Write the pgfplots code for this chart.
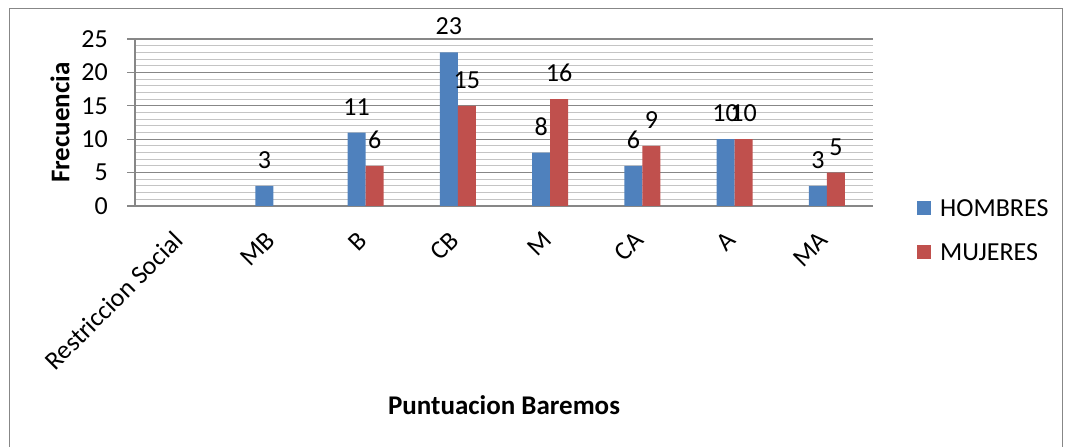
\documentclass[border=0pt]{standalone}
\usepackage{fontspec}
\setmainfont{Carlito}
\usepackage{pgfplots}
\pgfplotsset{compat=1.18}
\definecolor{cblue}{HTML}{4F81BD}
\definecolor{cred}{HTML}{C0504D}
\definecolor{majgrid}{HTML}{878787}
\definecolor{mingrid}{HTML}{C4C4C4}
\newcommand{\fs}{\fontsize{26}{31}\selectfont}
\newcommand{\ft}{\fontsize{27}{32}\selectfont\bfseries}
\begin{document}
\begin{tikzpicture}[x=1pt,y=1pt]
\useasboundingbox (0,0) rectangle (1066,447);
\draw[majgrid, line width=1pt] (9,-20) -- (9,438) -- (1062,438) -- (1062,-20);
\begin{axis}[
  at={(135pt,241pt)}, anchor=south west,
  scale only axis, width=738pt, height=167pt,
  clip=false,
  ybar=0pt, bar width=18pt,
  ymin=0, ymax=25, xmin=-0.5, xmax=7.5,
  axis lines*=left,
  axis line style={majgrid, line width=1.3pt},
  xtick={0,...,7},
  xticklabels={Restriccion Social,MB,B,CB,M,CA,A,MA},
  xtick style={draw=none},
  ytick={0,5,...,25},
  minor y tick num=4,
  ymajorgrids, yminorgrids,
  major grid style={majgrid, line width=1.2pt},
  minor grid style={mingrid, line width=1pt},
  tick align=outside,
  major tick length=8pt, minor tick length=0pt,
  ytick style={majgrid, line width=1.2pt},
  /pgf/number format/assume math mode=true,
  yticklabel style={font=\fs, inner sep=0pt, anchor=east, xshift=-19pt},
  xticklabel style={font=\fs, inner sep=0pt, xshift=-3pt, yshift=-22pt, rotate=45, anchor=east},
  ylabel={Frecuencia},
  ylabel style={font=\ft, at={(axis description cs:-0.1016,0.5)}, anchor=center},
  xlabel={Puntuacion Baremos},
  xlabel style={font=\ft, at={(axis description cs:0.5,-1.19)}, anchor=center},
  nodes near coords,
  nodes near coords style={font=\fs, inner sep=0pt, anchor=south, yshift=17pt, text=black},
  legend style={at={(axis description cs:1.0596,-0.15)}, anchor=west, draw=none, fill=none,
    inner sep=0pt, font=\fs, row sep=26pt, column sep=9pt, nodes={inner sep=0pt}},
  legend cell align=left,
]
\addplot[fill=cblue, draw=none, legend image code/.code={\fill[cblue] (0pt,-6pt) rectangle (14pt,8pt);}]
  coordinates {(1,3) (2,11) (3,23) (4,8) (5,6) (6,10) (7,3)};
\addplot[fill=cred, draw=none, legend image code/.code={\fill[cred] (0pt,-6pt) rectangle (14pt,8pt);}]
  coordinates {(2,6) (3,15) (4,16) (5,9) (6,10) (7,5)};
\legend{HOMBRES,MUJERES}
\end{axis}
\end{tikzpicture}
\end{document}
